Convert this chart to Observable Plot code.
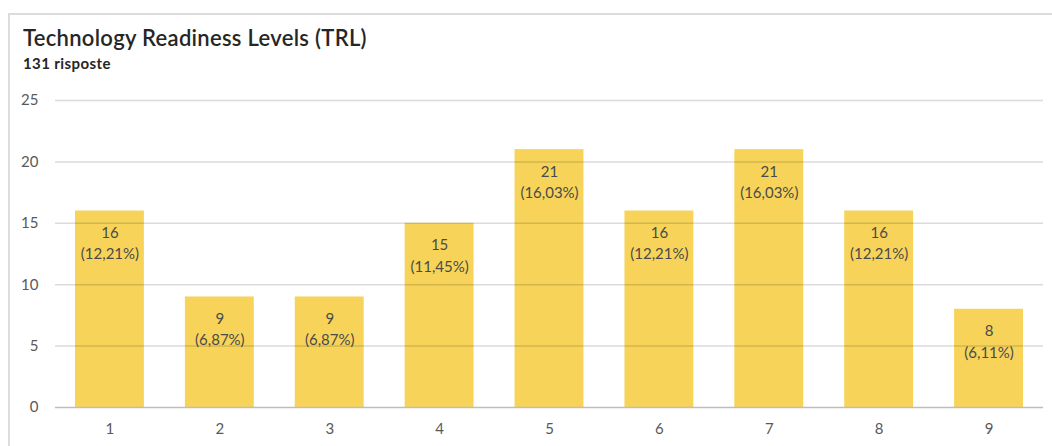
<!DOCTYPE html>
<html>
<head>
<meta charset="utf-8">
<script src="https://cdn.jsdelivr.net/npm/d3@7"></script>
<script src="https://cdn.jsdelivr.net/npm/@observablehq/plot@0.6"></script>
<style>
  html, body { margin: 0; padding: 0; background: #fff; }
  body { width: 1052px; height: 446px; overflow: hidden; position: relative; font-family: Lato, "Open Sans", sans-serif; }
  #frame { position: absolute; left: 8px; top: 13px; right: -2px; bottom: -2px; border-top: 2px solid #dcdcdc; border-left: 2px solid #dcdcdc; }
  #head { position: absolute; left: 23px; top: 25px; }
  #title { font-size: 22px; font-weight: 600; color: #262626; line-height: 26px; letter-spacing: 0.3px; }
  #subtitle { font-size: 15px; font-weight: 700; color: #262626; line-height: 18px; margin-top: 3px; letter-spacing: 0.4px; }
  #chart { position: absolute; left: 0; top: 80px; }
</style>
</head>
<body>
<div id="frame"></div>
<div id="head">
  <div id="title">Technology Readiness Levels (TRL)</div>
  <div id="subtitle">131 risposte</div>
</div>
<div id="chart"></div>
<script>
// TRL levels and number of responses per level
const levels = ["1", "2", "3", "4", "5", "6", "7", "8", "9"];
const counts = [16, 9, 9, 15, 21, 16, 21, 16, 8];
const totalResponses = 131;
const yTicks = [0, 5, 10, 15, 20, 25];

const rows = levels.map((level, i) => ({
  level,
  count: counts[i],
  label: `${counts[i]}\n(${(counts[i] / totalResponses * 100).toFixed(2).replace(".", ",")}%)`
}));

const chart = Plot.plot({
  width: 1052,
  height: 366,
  marginLeft: 55,
  marginRight: 9,
  marginTop: 20,
  marginBottom: 39,
  style: { fontFamily: "Lato, 'Open Sans', sans-serif", fontSize: "15px", color: "#595959", background: "transparent" },
  x: { domain: levels, paddingInner: 0.373, paddingOuter: 0.182, round: false, label: null, tickSize: 0, tickPadding: 16 },
  y: { domain: [0, 25], ticks: yTicks, label: null, tickSize: 0, tickPadding: 17, grid: false },
  marks: [
    Plot.barY(rows, { x: "level", y: "count", fill: "#f7d459" }),
    // grid lines sit over the bars, showing faintly through them
    Plot.ruleY(yTicks.filter(d => d > 0), { stroke: "#000", strokeOpacity: 0.14, strokeWidth: 1.5 }),
    Plot.ruleY([0], { stroke: "#bdbdbd", strokeWidth: 1.5 }),
    Plot.text(rows, {
      x: "level", y: "count", text: "label",
      lineAnchor: "middle", dy: 31, lineHeight: 1.42,
      fill: "#4a4a4a", fontSize: 15
    })
  ]
});
document.getElementById("chart").appendChild(chart);
</script>
</body>
</html>
